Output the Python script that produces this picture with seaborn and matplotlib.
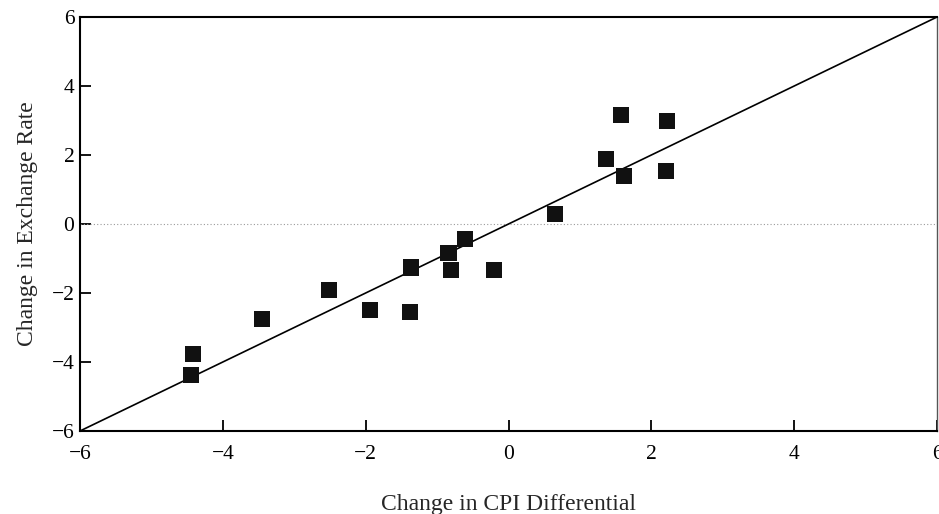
import matplotlib
matplotlib.use("Agg")
import matplotlib.pyplot as plt
import seaborn as sns
import pandas as pd

# data
cpi_diff = [-4.42, -4.45, -3.45, -2.51, -1.94, -1.37, -1.38, -0.84, -0.80,
            -0.61, -0.20, 0.65, 1.37, 1.58, 1.62, 2.22, 2.20]
fx_change = [-3.77, -4.38, -2.75, -1.91, -2.49, -1.26, -2.55, -0.85, -1.33,
             -0.44, -1.33, 0.28, 1.88, 3.16, 1.40, 2.99, 1.54]
line_x = [-6, 6]
line_y = [-6, 6]
ticks = [-6, -4, -2, 0, 2, 4, 6]
tick_labels = ["\u22126", "\u22124", "\u22122", "0", "2", "4", "6"]

df = pd.DataFrame({"cpi": cpi_diff, "fx": fx_change})

sns.set_style("white")
plt.rcParams["font.family"] = ["Liberation Serif", "DejaVu Serif"]

fig = plt.figure(figsize=(9.39, 5.14), dpi=100)
ax = fig.add_axes([0.0852, 0.1615, 0.9128, 0.8055])

# zero reference line
ax.axhline(0, color="#9a9a9a", lw=0.8, ls=(0, (1, 2)), zorder=1)

# 45 degree line
sns.lineplot(x=line_x, y=line_y, color="black", lw=1.2, ax=ax, zorder=2)

sns.scatterplot(data=df, x="cpi", y="fx", marker="s", s=135,
                color="#111111", edgecolor="none", ax=ax, zorder=3)

ax.set_xlim(-6, 6)
ax.set_ylim(-6, 6)
ax.set_xticks(ticks)
ax.set_yticks(ticks)
ax.set_xticklabels(tick_labels)
ax.set_yticklabels(tick_labels)
ax.tick_params(bottom=True, left=True, direction="in", length=8, width=1.3,
               labelsize=15.5, colors="black")
ax.tick_params(axis="x", pad=10)
ax.tick_params(axis="y", pad=4)

for side in ["left", "bottom", "top"]:
    ax.spines[side].set_color("black")
    ax.spines[side].set_linewidth(1.5)
ax.spines["right"].set_color("#555555")
ax.spines["right"].set_linewidth(1.0)

ax.set_xlabel("Change in CPI Differential", fontsize=17, labelpad=22)
ax.set_ylabel("Change in Exchange Rate", fontsize=17, labelpad=10)

fig.savefig("out.png", dpi=100)
